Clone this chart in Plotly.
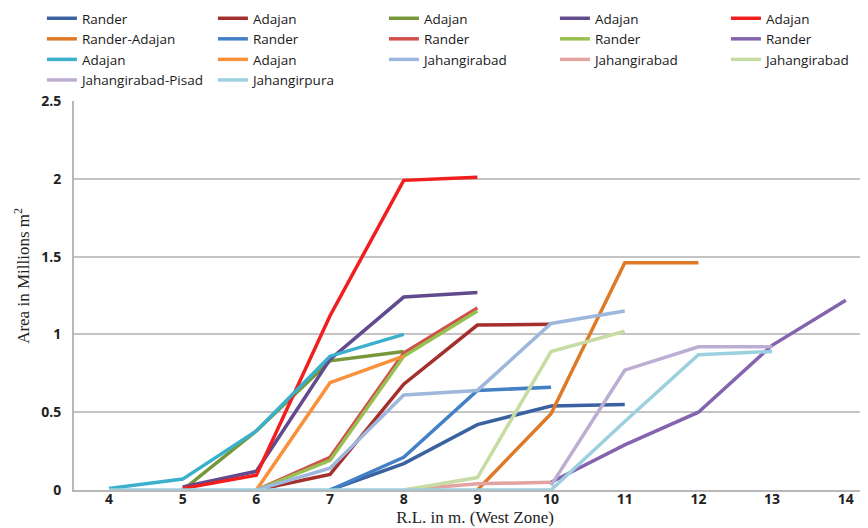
import plotly.graph_objects as go

x_levels = [4, 5, 6, 7, 8, 9, 10, 11, 12, 13, 14]

names = ["Rander", "Adajan", "Adajan", "Adajan", "Adajan",
         "Rander-Adajan", "Rander", "Rander", "Rander", "Rander",
         "Adajan", "Adajan", "Jahangirabad", "Jahangirabad", "Jahangirabad",
         "Jahangirabad-Pisad", "Jahangirpura"]

colors = ["#3A62A0", "#A3302C", "#76983A", "#614A8E", "#F01E1E",
          "#DE7A27", "#4480C6", "#D2504C", "#98C050", "#8464AE",
          "#3BB0CC", "#F9913A", "#9DB8DC", "#E3A3A1", "#C6DCA2",
          "#BCAED2", "#9CD0DE"]

N = None
s1 = [N, N, N, 0, 0.17, 0.42, 0.54, 0.55, N, N, N]
s2 = [N, N, 0, 0.10, 0.68, 1.06, 1.065, N, N, N, N]
s3 = [N, 0, 0.38, 0.83, 0.89, N, N, N, N, N, N]
s4 = [N, 0.02, 0.12, 0.84, 1.24, 1.27, N, N, N, N, N]
s5 = [N, 0.01, 0.095, 1.12, 1.99, 2.01, N, N, N, N, N]
s6 = [N, N, N, N, N, 0, 0.49, 1.46, 1.46, N, N]
s7 = [N, N, N, 0, 0.21, 0.64, 0.66, N, N, N, N]
s8 = [N, N, 0, 0.21, 0.88, 1.17, N, N, N, N, N]
s9 = [N, N, 0, 0.19, 0.86, 1.15, N, N, N, N, N]
s10 = [N, N, N, N, N, N, 0.05, 0.29, 0.50, 0.93, 1.22]
s11 = [0.01, 0.07, 0.38, 0.86, 1.00, N, N, N, N, N, N]
s12 = [N, N, 0, 0.69, 0.86, N, N, N, N, N, N]
s13 = [N, N, 0, 0.14, 0.61, 0.64, 1.07, 1.15, N, N, N]
s14 = [N, N, N, N, 0, 0.04, 0.05, N, N, N, N]
s15 = [N, N, N, N, 0, 0.08, 0.89, 1.02, N, N, N]
s16 = [N, N, N, N, N, N, 0.03, 0.77, 0.92, 0.92, N]
s17 = [0, 0, 0, 0, 0, 0, 0, 0.44, 0.87, 0.89, N]

series = [s1, s2, s3, s4, s5, s6, s7, s8, s9, s10, s11, s12, s13, s14, s15, s16, s17]

y_ticks = [0, 0.5, 1, 1.5, 2, 2.5]
y_ticktext = ["0", "0.5", "1", "1.5", "2", "2.5"]

fig = go.Figure()
for i, (nm, col, ys) in enumerate(zip(names, colors, series)):
    lw = None
    if (i + 1) % 5 == 0:
        lw = 80
    fig.add_trace(go.Scatter(
        x=x_levels, y=ys, name=nm, mode="lines",
        line=dict(color=col, width=3.5),
        connectgaps=False,
        legendwidth=lw,
    ))

plot_h = 528 - 93 - 46

fig.update_layout(
    width=868, height=528,
    margin=dict(l=66, r=0, t=93, b=46, autoexpand=False),
    paper_bgcolor="white", plot_bgcolor="white",
    font=dict(family="Open Sans", size=13, color="#222"),
    showlegend=True,
    legend=dict(
        orientation="h", x=-0.04, xanchor="left",
        y=1 + (93 + 5) / plot_h, yanchor="top",
        entrywidth=126, entrywidthmode="pixels",
        font=dict(family="Open Sans", size=13.5, color="#1a1a1a"),
        bgcolor="rgba(0,0,0,0)", tracegroupgap=0, itemclick=False,
    ),
    xaxis=dict(
        range=[3.525, 14.41], tickmode="array", tickvals=x_levels,
        ticktext=[str(v) for v in x_levels],
        showgrid=False, zeroline=False,
        showline=True, linecolor="#B8B8B8", linewidth=2,
        tickfont=dict(family="Open Sans", size=14, color="#222", weight="bold"),
        ticklabelstandoff=-5,
        title=dict(text="R.L. in m. (West Zone)",
                   font=dict(family="Liberation Serif", size=17, color="#222"),
                   standoff=0),
    ),
    yaxis=dict(
        range=[0, 2.5], tickmode="array", tickvals=y_ticks, ticktext=y_ticktext,
        showgrid=True, gridcolor="#C4C4C4", gridwidth=2,
        zeroline=False, showline=True, linecolor="#B8B8B8", linewidth=2,
        tickfont=dict(family="Open Sans", size=14, color="#222", weight="bold"),
        ticks="", ticklabelstandoff=8,
    ),
    annotations=[dict(
        text="Area in Millions m<sup>2</sup>", textangle=-90,
        xref="paper", yref="paper", x=-0.065, xanchor="center",
        y=(528 - 46 - 268) / plot_h, yanchor="middle",
        showarrow=False,
        font=dict(family="Liberation Serif", size=17, color="#222"),
    )],
)

fig.write_html("out.html")
